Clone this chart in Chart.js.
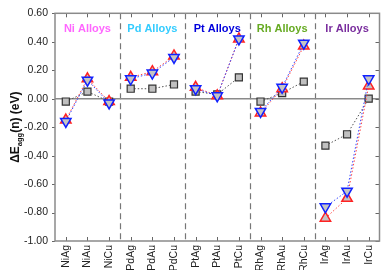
<!DOCTYPE html>
<html>
<head>
<meta charset="utf-8">
<script src="https://cdn.jsdelivr.net/npm/chart.js@4.4.1/dist/chart.umd.min.js"></script>
<style>
html,body{margin:0;padding:0;background:#fff;}
canvas{display:block;}
</style>
</head>
<body>
<canvas id="c" width="387" height="270"></canvas>
<script>
// ---- data ----
const categories = ['NiAg','NiAu','NiCu','PdAg','PdAu','PdCu','PtAg','PtAu','PtCu','RhAg','RhAu','RhCu','IrAg','IrAu','IrCu'];
const groupNames = ['Ni Alloys','Pd Alloys','Pt Alloys','Rh Alloys','Ir Alloys'];
const groupSize = 3;
const squareValues = [-0.02, 0.05, -0.02,  0.07, 0.07, 0.10,  0.05, 0.03, 0.15,  -0.02, 0.04, 0.12,  -0.33, -0.25, 0.00];
const upTriValues  = [-0.15, 0.14, -0.02,  0.15, 0.19, 0.30,  0.08, 0.02, 0.42,  -0.10, 0.07, 0.37,  -0.84, -0.70, 0.09];
const downTriValues= [-0.16, 0.13, -0.03,  0.14, 0.18, 0.29,  0.07, 0.02, 0.42,  -0.09, 0.08, 0.39,  -0.76, -0.65, 0.14];
const yTickValues = [0.60, 0.40, 0.20, 0.00, -0.20, -0.40, -0.60, -0.80, -1.00];

// ---- styles ----
const groupColors = ['#ff66ff', '#33ccff', '#0000dd', '#66aa22', '#7a2e9e'];
const axisGray = '#8a8a8a';
const fontFam = '"Liberation Sans", Arial, sans-serif';

function toPoints(vals){
  const pts = [];
  vals.forEach((v,i)=>{
    pts.push({x:i, y:v});
    if (i % groupSize === groupSize-1 && i < vals.length-1) pts.push({x:i+0.5, y:null});
  });
  return pts;
}

const decor = {
  id:'decor',
  beforeDatasetsDraw(chart){
    const {ctx, chartArea:a, scales:{x,y}} = chart;
    ctx.save();
    // group separators
    ctx.strokeStyle = '#777';
    ctx.lineWidth = 1.2;
    ctx.setLineDash([6,4]);
    for (let g=1; g<groupNames.length; g++){
      const px = Math.round(x.getPixelForValue(g*groupSize - 0.5)) + 0.5;
      ctx.beginPath(); ctx.moveTo(px, a.top); ctx.lineTo(px, a.bottom); ctx.stroke();
    }
    ctx.setLineDash([]);
    // zero line
    ctx.strokeStyle = axisGray; ctx.lineWidth = 1.5;
    const zy = y.getPixelForValue(0);
    ctx.beginPath(); ctx.moveTo(a.left, zy); ctx.lineTo(a.right, zy); ctx.stroke();
    // ticks
    ctx.lineWidth = 1; ctx.strokeStyle = '#666';
    categories.forEach((c,i)=>{
      const px = Math.round(x.getPixelForValue(i))+0.5;
      ctx.beginPath(); ctx.moveTo(px, a.bottom); ctx.lineTo(px, a.bottom-4); ctx.stroke();
      ctx.beginPath(); ctx.moveTo(px, a.top); ctx.lineTo(px, a.top+4); ctx.stroke();
    });
    yTickValues.forEach(v=>{
      const py = Math.round(y.getPixelForValue(v))+0.5;
      ctx.beginPath(); ctx.moveTo(a.right, py); ctx.lineTo(a.right-4, py); ctx.stroke();
      ctx.beginPath(); ctx.moveTo(a.left, py); ctx.lineTo(a.left-3, py); ctx.stroke();
    });
    // border
    ctx.strokeStyle = axisGray; ctx.lineWidth = 1.5;
    ctx.strokeRect(a.left, a.top, a.right-a.left, a.bottom-a.top);
    // group labels
    ctx.font = 'bold 11px ' + fontFam;
    ctx.textAlign = 'center'; ctx.textBaseline = 'middle';
    groupNames.forEach((g,k)=>{
      ctx.fillStyle = groupColors[k];
      const cx = x.getPixelForValue(k*groupSize + (groupSize-1)/2);
      ctx.fillText(g, cx, a.top + 16);
    });
    ctx.restore();
  },
  afterDraw(chart){
    const {ctx, chartArea:a} = chart;
    ctx.save();
    const cy = (a.top + a.bottom)/2;
    ctx.translate(15, cy);
    ctx.rotate(-Math.PI/2);
    ctx.fillStyle = '#111';
    ctx.textBaseline = 'alphabetic';
    ctx.textAlign = 'left';
    const big = 'bold 12px ' + fontFam, small = 'bold 7.5px ' + fontFam;
    ctx.font = big; const w1 = ctx.measureText('\u0394E').width;
    ctx.font = small; const w2 = ctx.measureText('agg').width;
    ctx.font = big; const w3 = ctx.measureText('(n) (eV)').width;
    let sx = -(w1+w2+w3)/2;
    ctx.font = big; ctx.fillText('\u0394E', sx, 4); sx += w1;
    ctx.font = small; ctx.fillText('agg', sx, 7); sx += w2;
    ctx.font = big; ctx.fillText('(n) (eV)', sx, 4);
    ctx.restore();
  }
};

new Chart(document.getElementById('c'), {
  type:'scatter',
  data:{
    datasets:[
      {
        label:'down', data: toPoints(downTriValues), showLine:true, spanGaps:false,
        borderColor:'#3344ff', borderWidth:1, borderDash:[1.5,2],
        pointStyle:'triangle', rotation:180, pointRadius:6,
        pointBackgroundColor:'#c4c4c4', pointBorderColor:'#1122ff', pointBorderWidth:1.5
      },
      {
        label:'up', data: toPoints(upTriValues), showLine:true, spanGaps:false,
        borderColor:'#ff4444', borderWidth:1, borderDash:[1.5,2],
        pointStyle:'triangle', pointRadius:6,
        pointBackgroundColor:'#c4c4c4', pointBorderColor:'#ff2222', pointBorderWidth:1.5
      },
      {
        label:'square', data: toPoints(squareValues), showLine:true, spanGaps:false,
        borderColor:'#555', borderWidth:1, borderDash:[1.5,2],
        pointStyle:'rect', pointRadius:5,
        pointBackgroundColor:'#c0c0c0', pointBorderColor:'#333', pointBorderWidth:1.2
      }
    ]
  },
  options:{
    responsive:false, animation:false, devicePixelRatio:1,
    layout:{padding:{top:5, right:1, left:0, bottom:0}},
    plugins:{legend:{display:false}, tooltip:{enabled:false}},
    scales:{
      x:{
        type:'linear', min:-0.5, max:categories.length-0.5,
        grid:{display:false, drawTicks:false}, border:{display:false},
        afterBuildTicks(s){ s.ticks = categories.map((c,i)=>({value:i})); },
        afterFit(s){ s.height = 29; },
        ticks:{
          autoSkip:false, maxRotation:90, minRotation:90, padding:4,
          font:{size:10.5, family:fontFam}, color:'#222',
          callback:(v)=>categories[v] ?? ''
        }
      },
      y:{
        min:-1.0, max:0.6,
        grid:{display:false, drawTicks:false}, border:{display:false},
        afterBuildTicks(s){ s.ticks = yTickValues.map(v=>({value:v})); },
        afterFit(s){ s.width = 55; },
        ticks:{
          padding:7, font:{size:10.5, family:fontFam}, color:'#222',
          callback:(v)=>Number(v).toFixed(2)
        }
      }
    }
  },
  plugins:[decor]
});
</script>
</body>
</html>
